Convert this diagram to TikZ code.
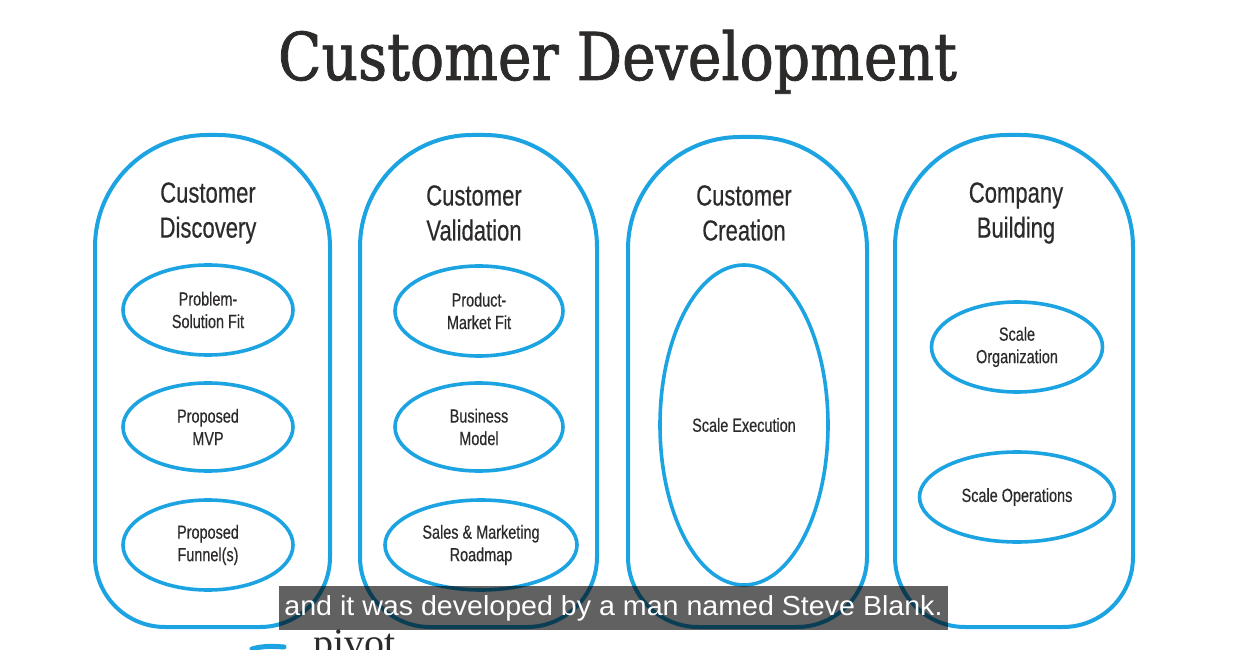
\documentclass[tikz,border=0pt]{standalone}
\usepackage{fontspec}
\setmainfont{Liberation Sans}
\newfontfamily\condfont[FakeStretch=0.76,FakeBold=0.4]{Liberation Sans}
\newfontfamily\slabfont[FakeStretch=0.86,FakeBold=1.2]{DejaVu Serif}
\newfontfamily\capfont[FakeStretch=1.04]{Liberation Sans}
\newfontfamily\serfont{Liberation Serif}
\usetikzlibrary{shapes.geometric}
\definecolor{skyblue}{RGB}{27,163,226}
\definecolor{inktext}{RGB}{45,42,42}
\newcommand\capsulepath[4]{%
  \draw[capline] (#1,#4+70) -- (#1,#3-112) arc[start angle=180,end angle=90,radius=112]
   -- (#2-112,#3) arc[start angle=90,end angle=0,radius=112]
   -- (#2,#4+70) arc[start angle=0,end angle=-90,radius=70]
   -- (#1+70,#4) arc[start angle=270,end angle=180,radius=70] -- cycle;}
\tikzset{
  capline/.style={draw=skyblue,line width=4pt,line join=round},
  oval/.style={ellipse,draw=skyblue,line width=3.6pt,inner sep=0pt,align=center,
    text=inktext,font=\condfont\fontsize{19}{22.5}\selectfont},
  coltitle/.style={align=center,text=inktext,font=\condfont\fontsize{29}{35}\selectfont,inner sep=0pt},
}
\begin{document}
\begin{tikzpicture}[x=1pt,y=1pt]
\useasboundingbox (0,0) rectangle (1235,649);
\clip (0,0) rectangle (1235,649);
\fill[white] (0,0) rectangle (1235,649);
% main title
\node[anchor=base,text=inktext,inner sep=0pt,font=\slabfont\fontsize{66}{76}\selectfont] (title) at (617.5,569) {Customer Development};
% capsules
\capsulepath{95}{330}{514}{22}
\capsulepath{360}{597}{514}{22}
\capsulepath{628}{867}{512}{22}
\capsulepath{895}{1133}{514}{22}
% column titles
\node[coltitle] (t1) at (208,436) {Customer\\Discovery};
\node[coltitle] (t2) at (474,436) {Customer\\Validation};
\node[coltitle] (t3) at (744,436) {Customer\\Creation};
\node[coltitle] (t4) at (1016,436) {Company\\Building};
% column 1
\node[oval,minimum width=170pt,minimum height=90pt] (psf) at (208,339) {Problem-\\Solution Fit};
\node[oval,minimum width=170pt,minimum height=88pt] (mvp) at (208,222) {Proposed\\MVP};
\node[oval,minimum width=170pt,minimum height=90pt] (fun) at (208,104) {Proposed\\Funnel(s)};
% column 2
\node[oval,minimum width=168pt,minimum height=90pt] (pmf) at (479,338) {Product-\\Market Fit};
\node[oval,minimum width=168pt,minimum height=88pt] (bm) at (479,222) {Business\\Model};
\node[oval,minimum width=192pt,minimum height=90pt] (smr) at (481,104) {Sales \& Marketing\\Roadmap};
% column 3
\node[oval,minimum width=168pt,minimum height=320pt] (se) at (744,224) {Scale Execution};
% column 4
\node[oval,minimum width=171pt,minimum height=90pt] (so) at (1017,302) {Scale\\Organization};
\node[oval,minimum width=195pt,minimum height=90pt] (sop) at (1017,152) {Scale Operations};
% bottom remnants
\draw[skyblue,line width=5pt,line cap=round] (252,0) .. controls (262,3) and (272,3) .. (284,2);
\node[anchor=base west,inner sep=0pt,text=inktext,font=\serfont\fontsize{40}{40}\selectfont] (pivot) at (313,-7) {pivot};
% caption bar
\fill[black,opacity=0.62] (279,19) rectangle (948,63);
\node[text=white,inner sep=0pt,font=\capfont\fontsize{27.5}{30}\selectfont] (cap) at (613.5,41) {and it was developed by a man named Steve Blank.};
\end{tikzpicture}
\end{document}
